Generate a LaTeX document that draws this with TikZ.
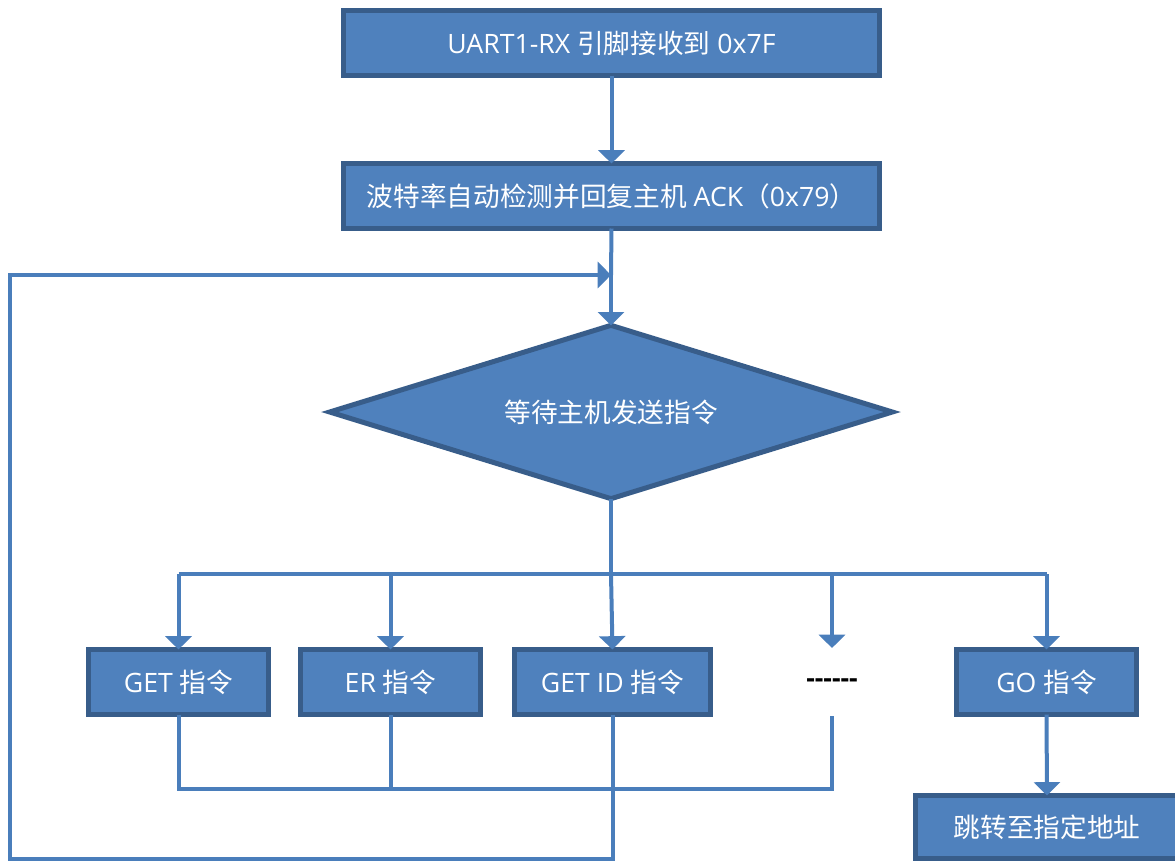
\documentclass[tikz,border=0pt]{standalone}
\usepackage{fontspec}
\setmainfont{Open Sans}
\newfontfamily\cjk{Noto Sans CJK SC}
\usetikzlibrary{arrows.meta,shapes.geometric}
\definecolor{boxfill}{HTML}{4F81BD}
\definecolor{boxedge}{HTML}{385D8A}
\definecolor{linkcol}{HTML}{4A7EBB}

\begin{document}
\begin{tikzpicture}[x=0.75pt,y=-0.75pt,
  every node/.style={inner sep=0pt,outer sep=0pt},
  labelfont/.style={font=\fontsize{20}{24}\selectfont},
  procbox/.style={rectangle,fill=boxfill,draw=boxedge,line width=3.75pt,
    text=white,labelfont,minimum height=48.75pt},
  decision/.style={diamond,aspect=3.2,fill=boxfill,draw=boxedge,line width=3.75pt,
    text=white,labelfont,minimum width=422pt,minimum height=130pt},
  link/.style={draw=linkcol,line width=3pt},
  arr/.style={link,-{Triangle[width=19.5pt,length=10pt]}},
]
\useasboundingbox (0,0) rectangle (1175,861);

% main chain
\node[procbox,minimum width=402pt] (rx) at (611.5,43) {UART1-RX {\cjk 引脚接收到} 0x7F};
\node[procbox,minimum width=402pt] (ack) at (611.5,196) {{\cjk 波特率自动检测并回复主机} ACK{\cjk （}0x79{\cjk ）}};
\node[decision] (wait) at (611,412) {\cjk 等待主机发送指令};

% command boxes
\node[procbox,minimum width=135pt] (get) at (178.5,682) {GET {\cjk 指令}};
\node[procbox,minimum width=135pt] (er) at (390.5,682) {ER {\cjk 指令}};
\node[procbox,minimum width=147pt] (getid) at (612.5,682) {GET ID {\cjk 指令}};
\node[labelfont,text=black,font=\fontsize{20}{24}\selectfont\bfseries] (dots) at (832,683) {-{}-{}-{}-{}-{}-};
\node[procbox,minimum width=135pt] (go) at (1046.5,682) {GO {\cjk 指令}};
\node[procbox,minimum width=197.25pt,minimum height=47.25pt] (jump) at (1047,827) {\cjk 跳转至指定地址};

% helper points
\coordinate (merge) at (611,275);
\coordinate (busC) at (611,574);
\coordinate (dotsin) at (832,648);
\coordinate (dotsout) at (832,716);
\coordinate (lowL) at (178.5,789);
\coordinate (loopL) at (10,859);

% straight flow
\draw[arr] (rx.south) -- (ack.north);
\draw[link] (ack.south) -- (merge);
\draw[arr] (merge) -- (wait.north);

% branching bus
\draw[link] (wait.south) -- (busC);
\draw[link] (get.north |- busC) -- (go.north |- busC);
\draw[arr] (get.north |- busC) -- (get.north);
\draw[arr] (er.north |- busC) -- (er.north);
\draw[arr] (busC) -- (getid.north |- get.north);
\draw[arr] (dotsin |- busC) -- (dotsin);
\draw[arr] (go.north |- busC) -- (go.north);

% returning bus
\draw[link] (get.south) -- (lowL) -| (dotsout);
\draw[link] (er.south) -- (er.south |- lowL);

% loop back to the wait state
\draw[arr] (getid.south) |- (loopL) |- (merge);

% GO branch
\draw[arr] (go.south) -- (jump.north);
\end{tikzpicture}
\end{document}
